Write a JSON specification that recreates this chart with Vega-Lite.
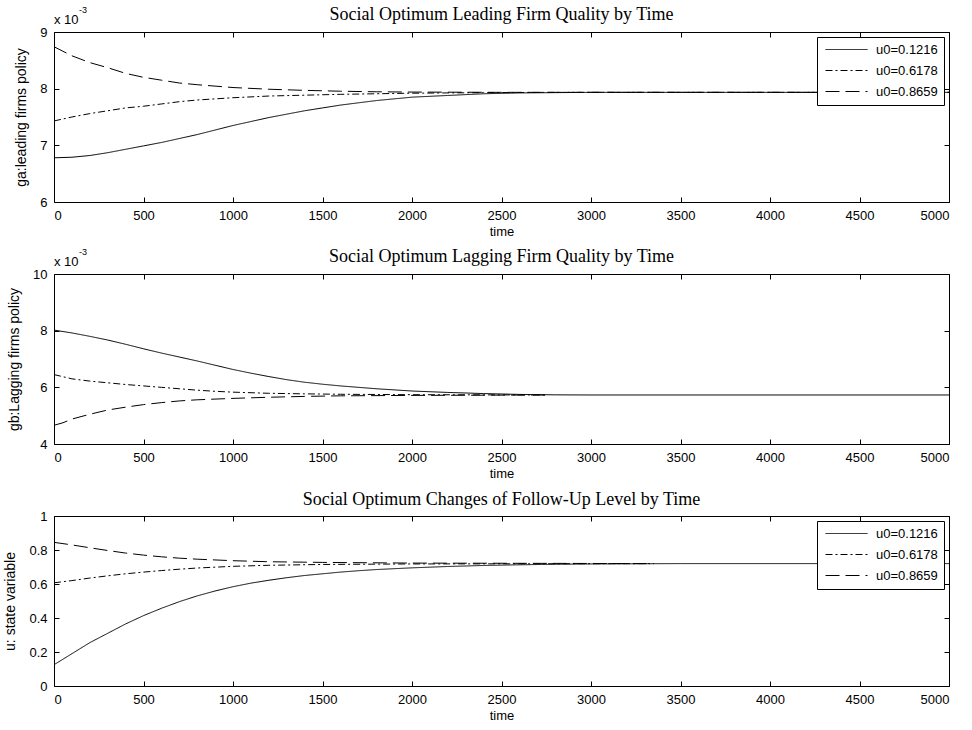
{
  "$schema": "https://vega.github.io/schema/vega-lite/v6.json",
  "padding": {"left": 3, "top": 5, "right": 5, "bottom": 2},
  "background": "white",
  "datasets": {
    "ga": [
      {"time": 0, "series": "u0=0.1216", "value": 0.00678},
      {"time": 100, "series": "u0=0.1216", "value": 0.00679},
      {"time": 200, "series": "u0=0.1216", "value": 0.00682},
      {"time": 300, "series": "u0=0.1216", "value": 0.00687},
      {"time": 400, "series": "u0=0.1216", "value": 0.00693},
      {"time": 500, "series": "u0=0.1216", "value": 0.00699},
      {"time": 600, "series": "u0=0.1216", "value": 0.00705},
      {"time": 700, "series": "u0=0.1216", "value": 0.00712},
      {"time": 800, "series": "u0=0.1216", "value": 0.00719},
      {"time": 900, "series": "u0=0.1216", "value": 0.00727},
      {"time": 1000, "series": "u0=0.1216", "value": 0.00735},
      {"time": 1100, "series": "u0=0.1216", "value": 0.00742},
      {"time": 1200, "series": "u0=0.1216", "value": 0.00749},
      {"time": 1300, "series": "u0=0.1216", "value": 0.00755},
      {"time": 1400, "series": "u0=0.1216", "value": 0.00761},
      {"time": 1500, "series": "u0=0.1216", "value": 0.00766},
      {"time": 1600, "series": "u0=0.1216", "value": 0.00771},
      {"time": 1700, "series": "u0=0.1216", "value": 0.00775},
      {"time": 1800, "series": "u0=0.1216", "value": 0.00779},
      {"time": 1900, "series": "u0=0.1216", "value": 0.00782},
      {"time": 2000, "series": "u0=0.1216", "value": 0.00785},
      {"time": 2200, "series": "u0=0.1216", "value": 0.00788},
      {"time": 2400, "series": "u0=0.1216", "value": 0.00791},
      {"time": 2600, "series": "u0=0.1216", "value": 0.007925},
      {"time": 2800, "series": "u0=0.1216", "value": 0.00793},
      {"time": 3000, "series": "u0=0.1216", "value": 0.007935},
      {"time": 5000, "series": "u0=0.1216", "value": 0.007935},
      {"time": 0, "series": "u0=0.6178", "value": 0.00743},
      {"time": 100, "series": "u0=0.6178", "value": 0.0075},
      {"time": 200, "series": "u0=0.6178", "value": 0.00756},
      {"time": 300, "series": "u0=0.6178", "value": 0.00761},
      {"time": 400, "series": "u0=0.6178", "value": 0.00766},
      {"time": 500, "series": "u0=0.6178", "value": 0.00769},
      {"time": 600, "series": "u0=0.6178", "value": 0.00773},
      {"time": 700, "series": "u0=0.6178", "value": 0.00777},
      {"time": 800, "series": "u0=0.6178", "value": 0.0078},
      {"time": 1000, "series": "u0=0.6178", "value": 0.00784},
      {"time": 1200, "series": "u0=0.6178", "value": 0.00787},
      {"time": 1400, "series": "u0=0.6178", "value": 0.007885},
      {"time": 1600, "series": "u0=0.6178", "value": 0.0079},
      {"time": 1800, "series": "u0=0.6178", "value": 0.00791},
      {"time": 2000, "series": "u0=0.6178", "value": 0.00792},
      {"time": 2400, "series": "u0=0.6178", "value": 0.00793},
      {"time": 2800, "series": "u0=0.6178", "value": 0.007935},
      {"time": 5000, "series": "u0=0.6178", "value": 0.007935},
      {"time": 0, "series": "u0=0.8659", "value": 0.00874},
      {"time": 50, "series": "u0=0.8659", "value": 0.00866},
      {"time": 100, "series": "u0=0.8659", "value": 0.00858},
      {"time": 200, "series": "u0=0.8659", "value": 0.00846},
      {"time": 300, "series": "u0=0.8659", "value": 0.00837},
      {"time": 400, "series": "u0=0.8659", "value": 0.00827},
      {"time": 500, "series": "u0=0.8659", "value": 0.0082},
      {"time": 600, "series": "u0=0.8659", "value": 0.00815},
      {"time": 700, "series": "u0=0.8659", "value": 0.0081},
      {"time": 800, "series": "u0=0.8659", "value": 0.00807},
      {"time": 1000, "series": "u0=0.8659", "value": 0.00802},
      {"time": 1200, "series": "u0=0.8659", "value": 0.00799},
      {"time": 1400, "series": "u0=0.8659", "value": 0.00797},
      {"time": 1600, "series": "u0=0.8659", "value": 0.007955},
      {"time": 1800, "series": "u0=0.8659", "value": 0.007945},
      {"time": 2000, "series": "u0=0.8659", "value": 0.00794},
      {"time": 2500, "series": "u0=0.8659", "value": 0.007935},
      {"time": 5000, "series": "u0=0.8659", "value": 0.007935}
    ],
    "gb": [
      {"time": 0, "series": "u0=0.1216", "value": 0.00802},
      {"time": 100, "series": "u0=0.1216", "value": 0.00792},
      {"time": 200, "series": "u0=0.1216", "value": 0.0078},
      {"time": 300, "series": "u0=0.1216", "value": 0.00767},
      {"time": 400, "series": "u0=0.1216", "value": 0.00752},
      {"time": 500, "series": "u0=0.1216", "value": 0.00736},
      {"time": 600, "series": "u0=0.1216", "value": 0.00721},
      {"time": 700, "series": "u0=0.1216", "value": 0.00707},
      {"time": 800, "series": "u0=0.1216", "value": 0.00693},
      {"time": 900, "series": "u0=0.1216", "value": 0.00678},
      {"time": 1000, "series": "u0=0.1216", "value": 0.00663},
      {"time": 1100, "series": "u0=0.1216", "value": 0.0065},
      {"time": 1200, "series": "u0=0.1216", "value": 0.00638},
      {"time": 1300, "series": "u0=0.1216", "value": 0.00627},
      {"time": 1400, "series": "u0=0.1216", "value": 0.00618},
      {"time": 1500, "series": "u0=0.1216", "value": 0.00611},
      {"time": 1600, "series": "u0=0.1216", "value": 0.00605},
      {"time": 1700, "series": "u0=0.1216", "value": 0.006},
      {"time": 1800, "series": "u0=0.1216", "value": 0.00595},
      {"time": 1900, "series": "u0=0.1216", "value": 0.00591},
      {"time": 2000, "series": "u0=0.1216", "value": 0.00587},
      {"time": 2200, "series": "u0=0.1216", "value": 0.00582},
      {"time": 2400, "series": "u0=0.1216", "value": 0.00578},
      {"time": 2600, "series": "u0=0.1216", "value": 0.00575},
      {"time": 2800, "series": "u0=0.1216", "value": 0.005735},
      {"time": 3000, "series": "u0=0.1216", "value": 0.00573},
      {"time": 5000, "series": "u0=0.1216", "value": 0.00573},
      {"time": 0, "series": "u0=0.6178", "value": 0.00645},
      {"time": 100, "series": "u0=0.6178", "value": 0.0063},
      {"time": 200, "series": "u0=0.6178", "value": 0.00622},
      {"time": 300, "series": "u0=0.6178", "value": 0.00616},
      {"time": 400, "series": "u0=0.6178", "value": 0.0061},
      {"time": 500, "series": "u0=0.6178", "value": 0.00605},
      {"time": 600, "series": "u0=0.6178", "value": 0.006},
      {"time": 700, "series": "u0=0.6178", "value": 0.00595},
      {"time": 800, "series": "u0=0.6178", "value": 0.0059},
      {"time": 900, "series": "u0=0.6178", "value": 0.00586},
      {"time": 1000, "series": "u0=0.6178", "value": 0.00583},
      {"time": 1200, "series": "u0=0.6178", "value": 0.00579},
      {"time": 1400, "series": "u0=0.6178", "value": 0.00577},
      {"time": 1600, "series": "u0=0.6178", "value": 0.005755},
      {"time": 2000, "series": "u0=0.6178", "value": 0.00574},
      {"time": 2750, "series": "u0=0.6178", "value": 0.00573},
      {"time": 0, "series": "u0=0.8659", "value": 0.00466},
      {"time": 50, "series": "u0=0.8659", "value": 0.00475},
      {"time": 100, "series": "u0=0.8659", "value": 0.00488},
      {"time": 200, "series": "u0=0.8659", "value": 0.00505},
      {"time": 300, "series": "u0=0.8659", "value": 0.0052},
      {"time": 400, "series": "u0=0.8659", "value": 0.0053},
      {"time": 500, "series": "u0=0.8659", "value": 0.00539},
      {"time": 600, "series": "u0=0.8659", "value": 0.00546},
      {"time": 700, "series": "u0=0.8659", "value": 0.00552},
      {"time": 800, "series": "u0=0.8659", "value": 0.00556},
      {"time": 1000, "series": "u0=0.8659", "value": 0.00561},
      {"time": 1200, "series": "u0=0.8659", "value": 0.00565},
      {"time": 1400, "series": "u0=0.8659", "value": 0.00568},
      {"time": 1600, "series": "u0=0.8659", "value": 0.0057},
      {"time": 2000, "series": "u0=0.8659", "value": 0.005715},
      {"time": 2750, "series": "u0=0.8659", "value": 0.00573}
    ],
    "u": [
      {"time": 0, "series": "u0=0.1216", "value": 0.125},
      {"time": 100, "series": "u0=0.1216", "value": 0.19},
      {"time": 200, "series": "u0=0.1216", "value": 0.255},
      {"time": 300, "series": "u0=0.1216", "value": 0.31},
      {"time": 400, "series": "u0=0.1216", "value": 0.365},
      {"time": 500, "series": "u0=0.1216", "value": 0.414},
      {"time": 600, "series": "u0=0.1216", "value": 0.457},
      {"time": 700, "series": "u0=0.1216", "value": 0.496},
      {"time": 800, "series": "u0=0.1216", "value": 0.53},
      {"time": 900, "series": "u0=0.1216", "value": 0.559},
      {"time": 1000, "series": "u0=0.1216", "value": 0.584},
      {"time": 1100, "series": "u0=0.1216", "value": 0.605},
      {"time": 1200, "series": "u0=0.1216", "value": 0.622},
      {"time": 1300, "series": "u0=0.1216", "value": 0.637},
      {"time": 1400, "series": "u0=0.1216", "value": 0.65},
      {"time": 1500, "series": "u0=0.1216", "value": 0.66},
      {"time": 1600, "series": "u0=0.1216", "value": 0.67},
      {"time": 1700, "series": "u0=0.1216", "value": 0.678},
      {"time": 1800, "series": "u0=0.1216", "value": 0.685},
      {"time": 2000, "series": "u0=0.1216", "value": 0.695},
      {"time": 2200, "series": "u0=0.1216", "value": 0.703},
      {"time": 2400, "series": "u0=0.1216", "value": 0.709},
      {"time": 2600, "series": "u0=0.1216", "value": 0.713},
      {"time": 2800, "series": "u0=0.1216", "value": 0.716},
      {"time": 3000, "series": "u0=0.1216", "value": 0.718},
      {"time": 3500, "series": "u0=0.1216", "value": 0.72},
      {"time": 5000, "series": "u0=0.1216", "value": 0.72},
      {"time": 0, "series": "u0=0.6178", "value": 0.607},
      {"time": 100, "series": "u0=0.6178", "value": 0.62},
      {"time": 200, "series": "u0=0.6178", "value": 0.635},
      {"time": 300, "series": "u0=0.6178", "value": 0.648},
      {"time": 400, "series": "u0=0.6178", "value": 0.66},
      {"time": 500, "series": "u0=0.6178", "value": 0.67},
      {"time": 600, "series": "u0=0.6178", "value": 0.679},
      {"time": 700, "series": "u0=0.6178", "value": 0.687},
      {"time": 800, "series": "u0=0.6178", "value": 0.694},
      {"time": 1000, "series": "u0=0.6178", "value": 0.704},
      {"time": 1200, "series": "u0=0.6178", "value": 0.71},
      {"time": 1500, "series": "u0=0.6178", "value": 0.715},
      {"time": 2000, "series": "u0=0.6178", "value": 0.718},
      {"time": 3350, "series": "u0=0.6178", "value": 0.72},
      {"time": 0, "series": "u0=0.8659", "value": 0.845},
      {"time": 100, "series": "u0=0.8659", "value": 0.83},
      {"time": 200, "series": "u0=0.8659", "value": 0.813},
      {"time": 300, "series": "u0=0.8659", "value": 0.797},
      {"time": 400, "series": "u0=0.8659", "value": 0.782},
      {"time": 500, "series": "u0=0.8659", "value": 0.77},
      {"time": 600, "series": "u0=0.8659", "value": 0.76},
      {"time": 700, "series": "u0=0.8659", "value": 0.752},
      {"time": 800, "series": "u0=0.8659", "value": 0.746},
      {"time": 1000, "series": "u0=0.8659", "value": 0.737},
      {"time": 1200, "series": "u0=0.8659", "value": 0.731},
      {"time": 1500, "series": "u0=0.8659", "value": 0.727},
      {"time": 2000, "series": "u0=0.8659", "value": 0.723},
      {"time": 3350, "series": "u0=0.8659", "value": 0.72}
    ]
  },
  "config": {
    "view": {"stroke": "black", "strokeWidth": 1},
    "font": "Liberation Sans",
    "axis": {
      "domain": false,
      "grid": false,
      "tickColor": "black",
      "tickSize": -5,
      "labelFont": "Liberation Sans",
      "labelFontSize": 13,
      "labelColor": "black",
      "labelPadding": 12,
      "titleFont": "Liberation Sans",
      "titleFontSize": 13,
      "titleFontWeight": "normal",
      "titleColor": "black"
    },
    "axisX": {"titlePadding": 3},
    "axisY": {"titlePadding": 11, "titleFontSize": 14},
    "title": {
      "font": "Liberation Serif",
      "fontSize": 18,
      "fontWeight": "normal",
      "color": "black",
      "anchor": "middle"
    },
    "legend": {
      "orient": "top-right",
      "offset": 5,
      "title": null,
      "strokeColor": "black",
      "fillColor": "white",
      "padding": 6,
      "symbolType": "M-3.5,0H3.5",
      "symbolSize": 144,
      "symbolStrokeWidth": 1,
      "symbolStrokeColor": "black",
      "symbolFillColor": "transparent",
      "symbolOffset": 17,
      "labelOffset": 23,
      "labelFont": "Liberation Sans",
      "labelFontSize": 13,
      "labelColor": "black",
      "rowPadding": 7
    }
  },
  "resolve": {"scale": {"strokeDash": "independent"}, "legend": {"strokeDash": "independent"}},
  "bounds": "flush",
  "spacing": 72,
  "vconcat": [
    {
      "width": 895,
      "height": 170,
      "title": {"text": "Social Optimum Leading Firm Quality by Time", "offset": -18},
      "data": {"name": "ga"},
      "resolve": {"axis": {"x": "independent", "y": "independent"}},
      "layer": [
        {
          "mark": {"type": "line", "color": "black", "strokeWidth": 1},
          "encoding": {
            "x": {"field": "time", "type": "quantitative", "scale": {"domain": [0, 5000], "nice": false}, "axis": {"values": [0,500,1000,1500,2000,2500,3000,3500,4000,4500,5000], "format": "d", "title": "time"}},
            "y": {"field": "value", "type": "quantitative", "scale": {"domain": [0.006, 0.009], "nice": false, "zero": false}, "axis": {"values": [0.006, 0.007, 0.008, 0.009], "labelExpr": "round(datum.value*1000)", "title": "ga:leading firms policy"}},
            "strokeDash": {"field": "series", "type": "nominal", "scale": {"domain": ["u0=0.1216", "u0=0.6178", "u0=0.8659"], "range": [[1, 0], [7, 3, 2, 3], [14, 6]]}}
          }
        },
        {
          "mark": {"type": "line", "opacity": 0},
          "encoding": {
            "x": {"field": "time", "type": "quantitative", "axis": {"orient": "top", "labels": false, "title": null, "values": [0,500,1000,1500,2000,2500,3000,3500,4000,4500,5000]}},
            "y": {"field": "value", "type": "quantitative", "axis": {"orient": "right", "labels": false, "title": null, "values": [0.006, 0.007, 0.008, 0.009]}},
            "detail": {"field": "series"}
          }
        },
        {
          "data": {"values": [{"label": "x 10"}]},
          "mark": {"type": "text", "align": "left", "baseline": "alphabetic", "dy": -8, "fontSize": 13, "color": "black", "font": "Liberation Sans"},
          "encoding": {"x": {"datum": 0, "type": "quantitative", "axis": null}, "y": {"datum": 0.009, "type": "quantitative", "axis": null}, "text": {"field": "label"}}
        },
        {
          "data": {"values": [{"label": "-3"}]},
          "mark": {"type": "text", "align": "left", "baseline": "alphabetic", "dx": 25, "dy": -19, "fontSize": 9, "color": "black", "font": "Liberation Sans"},
          "encoding": {"x": {"datum": 0, "type": "quantitative", "axis": null}, "y": {"datum": 0.009, "type": "quantitative", "axis": null}, "text": {"field": "label"}}
        }
      ]
    },
    {
      "width": 895,
      "height": 170,
      "title": {"text": "Social Optimum Lagging Firm Quality by Time", "offset": -18},
      "data": {"name": "gb"},
      "resolve": {"axis": {"x": "independent", "y": "independent"}},
      "layer": [
        {
          "mark": {"type": "line", "color": "black", "strokeWidth": 1},
          "encoding": {
            "x": {"field": "time", "type": "quantitative", "scale": {"domain": [0, 5000], "nice": false}, "axis": {"values": [0,500,1000,1500,2000,2500,3000,3500,4000,4500,5000], "format": "d", "title": "time"}},
            "y": {"field": "value", "type": "quantitative", "scale": {"domain": [0.004, 0.01], "nice": false, "zero": false}, "axis": {"values": [0.004, 0.006, 0.008, 0.01], "labelExpr": "round(datum.value*1000)", "title": "gb:Lagging firms policy"}},
            "strokeDash": {"field": "series", "type": "nominal", "scale": {"domain": ["u0=0.1216", "u0=0.6178", "u0=0.8659"], "range": [[1, 0], [7, 3, 2, 3], [14, 6]]}, "legend": null}
          }
        },
        {
          "mark": {"type": "line", "opacity": 0},
          "encoding": {
            "x": {"field": "time", "type": "quantitative", "axis": {"orient": "top", "labels": false, "title": null, "values": [0,500,1000,1500,2000,2500,3000,3500,4000,4500,5000]}},
            "y": {"field": "value", "type": "quantitative", "axis": {"orient": "right", "labels": false, "title": null, "values": [0.004, 0.006, 0.008, 0.01]}},
            "detail": {"field": "series"}
          }
        },
        {
          "data": {"values": [{"label": "x 10"}]},
          "mark": {"type": "text", "align": "left", "baseline": "alphabetic", "dy": -8, "fontSize": 13, "color": "black", "font": "Liberation Sans"},
          "encoding": {"x": {"datum": 0, "type": "quantitative", "axis": null}, "y": {"datum": 0.01, "type": "quantitative", "axis": null}, "text": {"field": "label"}}
        },
        {
          "data": {"values": [{"label": "-3"}]},
          "mark": {"type": "text", "align": "left", "baseline": "alphabetic", "dx": 25, "dy": -19, "fontSize": 9, "color": "black", "font": "Liberation Sans"},
          "encoding": {"x": {"datum": 0, "type": "quantitative", "axis": null}, "y": {"datum": 0.01, "type": "quantitative", "axis": null}, "text": {"field": "label"}}
        }
      ]
    },
    {
      "width": 895,
      "height": 170,
      "title": {"text": "Social Optimum Changes of Follow-Up Level by Time", "offset": 1},
      "data": {"name": "u"},
      "resolve": {"axis": {"x": "independent", "y": "independent"}},
      "layer": [
        {
          "mark": {"type": "line", "color": "black", "strokeWidth": 1},
          "encoding": {
            "x": {"field": "time", "type": "quantitative", "scale": {"domain": [0, 5000], "nice": false}, "axis": {"values": [0,500,1000,1500,2000,2500,3000,3500,4000,4500,5000], "format": "d", "title": "time"}},
            "y": {"field": "value", "type": "quantitative", "scale": {"domain": [0, 1], "nice": false}, "axis": {"values": [0, 0.2, 0.4, 0.6, 0.8, 1], "format": "~g", "title": "u: state variable"}},
            "strokeDash": {"field": "series", "type": "nominal", "scale": {"domain": ["u0=0.1216", "u0=0.6178", "u0=0.8659"], "range": [[1, 0], [7, 3, 2, 3], [14, 6]]}}
          }
        },
        {
          "mark": {"type": "line", "opacity": 0},
          "encoding": {
            "x": {"field": "time", "type": "quantitative", "axis": {"orient": "top", "labels": false, "title": null, "values": [0,500,1000,1500,2000,2500,3000,3500,4000,4500,5000]}},
            "y": {"field": "value", "type": "quantitative", "axis": {"orient": "right", "labels": false, "title": null, "values": [0, 0.2, 0.4, 0.6, 0.8, 1]}},
            "detail": {"field": "series"}
          }
        }
      ]
    }
  ]
}
